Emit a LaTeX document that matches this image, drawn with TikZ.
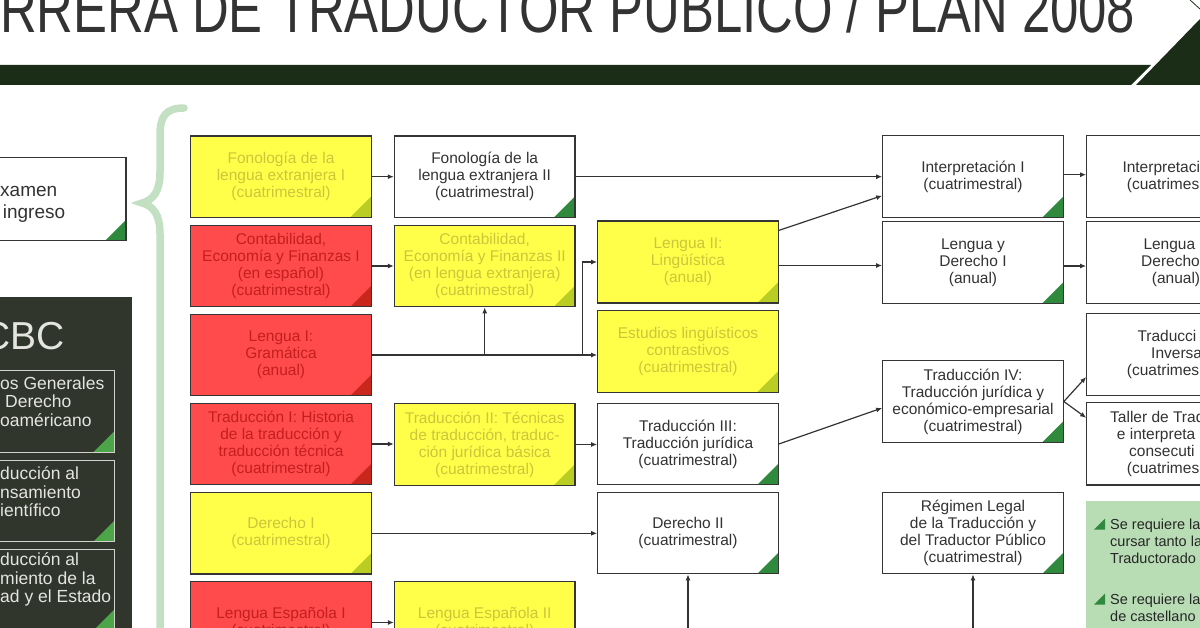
\documentclass[tikz,border=0pt]{standalone}
\usepackage{graphicx}
\usepackage{fontspec}
\setmainfont{Liberation Sans}
\newfontfamily\titlefont{Liberation Sans}
\usetikzlibrary{arrows.meta}

\definecolor{ybg}{HTML}{FFFF4A}
\definecolor{yfg}{HTML}{CBC63A}
\definecolor{ycorner}{HTML}{BACD25}
\definecolor{rbg}{HTML}{FF4B4B}
\definecolor{rfg}{HTML}{C41F1F}
\definecolor{rcorner}{HTML}{C9261E}
\definecolor{gcorner}{HTML}{2F8A3E}
\definecolor{boxline}{HTML}{353535}
\definecolor{txtdark}{HTML}{333333}
\definecolor{panel}{HTML}{30362C}
\definecolor{cbcline}{HTML}{D2D2CC}
\definecolor{cbcgreen}{HTML}{4DA54A}
\definecolor{cbctext}{HTML}{E4E4E0}
\definecolor{bracegreen}{HTML}{C4E0C3}
\definecolor{notegreen}{HTML}{B8DDB4}
\definecolor{bandgreen}{HTML}{1C2D17}

\tikzset{
  cornertri/.style={path picture={\fill[#1] (path picture bounding box.south east)
      -- ([xshift=-21pt]path picture bounding box.south east)
      -- ([yshift=21pt]path picture bounding box.south east) -- cycle;}},
  subject/.style={draw=boxline, line width=1.2pt, minimum width=180.5pt, minimum height=81.5pt,
      inner sep=0pt, align=center, font=\fontsize{15.5}{17}\selectfont},
  wbox/.style={subject, fill=white, text=txtdark, cornertri=gcorner},
  ybox/.style={subject, fill=ybg, text=yfg, cornertri=ycorner},
  rbox/.style={subject, fill=rbg, text=rfg, cornertri=rcorner},
  cbcbox/.style={draw=cbcline, line width=1pt, fill=panel, minimum width=180pt,
      minimum height=81.5pt, cornertri=cbcgreen},
  cuttext/.style={anchor=west, inner sep=0pt, align=left},
  arr/.style={draw=txtdark, line width=1.2pt, -{Latex[length=6pt,width=5pt]}},
}

\begin{document}
\begin{tikzpicture}[x=1pt,y=-1pt]
\useasboundingbox (0,0) rectangle (1200,628);
\clip (0,0) rectangle (1200,628);

% header
\node[anchor=base west, inner sep=0pt, text=txtdark] (title) at (0,33)
  {\resizebox{1135pt}{1.15\height}{\titlefont\fontsize{58}{58}\selectfont RRERA DE TRADUCTOR PUBLICO / PLAN 2008}};
\fill[bandgreen] (0,65) -- (1151,65) -- (1131,85) -- (0,85) -- cycle;
\fill[bandgreen] (1136,85) -- (1200,85) -- (1200,19) -- cycle;
\draw[bandgreen, line width=0.8pt] (1190,0) -- (1200,9);

% left side: ingreso and CBC
\node[wbox, minimum height=83pt] (examen) at (35.7,199.4) {};
\node[cuttext, text=txtdark, font=\fontsize{19}{22}\selectfont] (examenT) at (0,204)
  {xamen\\\hspace{2.7pt}ingreso};

\fill[panel] (-5,296.7) rectangle (131.7,640);
\node[anchor=base east, inner sep=0pt, text=cbctext, font=\fontsize{39}{39}\selectfont] (cbc) at (65,350) {CBC};
\node[cbcbox] (cbcA) at (24.3,411.5) {};
\node[cbcbox] (cbcB) at (24.3,501) {};
\node[cbcbox] (cbcC) at (24.3,589.8) {};
\begin{scope}[every node/.style={cuttext, text=cbctext, font=\fontsize{17.5}{18.5}\selectfont}]
\node (cbcAT) at (0,401.5) {os Generales\\\hspace{5pt}Derecho\\oaméricano};
\node (cbcBT) at (0,491.7) {ducción al\\nsamiento\\ientífico};
\node (cbcCT) at (0,579.5) {ducción al\\miento de la\\ad y el Estado};
\end{scope}

% brace
\draw[bracegreen, line width=7.5pt, line cap=round]
  (184,108) .. controls (166,108) and (160,116) .. (160,135) -- (160,172)
  .. controls (160,192) and (153,200) .. (142,203)
  .. controls (153,206) and (160,214) .. (160,234) -- (160,640);

% first column
\node[ybox] (fonoI) at (281,176.7) {Fonología de la\\lengua extranjera I\\(cuatrimestral)};
\node[rbox] (contaI) at (281,266) {Contabilidad,\\Economía y Finanzas I\\(en español)\\(cuatrimestral)};
\node[rbox] (lenguaI) at (281,355) {Lengua I:\\Gramática\\(anual)};
\node[rbox] (tradI) at (281,444) {Traducción I: Historia\\de la traducción y\\traducción técnica\\(cuatrimestral)};
\node[ybox] (derechoI) at (281,533.3) {Derecho I\\(cuatrimestral)};
\node[rbox] (espI) at (281,622.5) {Lengua Española I\\(cuatrimestral)};

% second column
\node[wbox] (fonoII) at (484.7,176.7) {Fonología de la\\lengua extranjera II\\(cuatrimestral)};
\node[ybox] (contaII) at (484.7,266) {Contabilidad,\\Economía y Finanzas II\\(en lengua extranjera)\\(cuatrimestral)};
\node[ybox] (tradII) at (484.7,444.5) {Traducción II: Técnicas\\de traducción, traduc-\\ción jurídica básica\\(cuatrimestral)};
\node[ybox] (espII) at (484.7,622.5) {Lengua Española II\\(cuatrimestral)};

% third column
\node[ybox, minimum height=82pt] (lenguaII) at (688,262) {Lengua II:\\Lingüística\\(anual)};
\node[ybox] (estudios) at (688,351.4) {Estudios lingüísticos\\contrastivos\\(cuatrimestral)};
\node[wbox] (tradIII) at (688,444) {Traducción III:\\Traducción jurídica\\(cuatrimestral)};
\node[wbox] (derechoII) at (688,533) {Derecho II\\(cuatrimestral)};

% fourth column
\node[wbox, minimum height=82pt] (interpI) at (973,176.7) {Interpretación I\\(cuatrimestral)};
\node[wbox] (lyderI) at (973,262.5) {Lengua y\\Derecho I\\(anual)};
\node[wbox] (tradIV) at (973,401.5) {Traducción IV:\\Traducción jurídica y\\económico-empresarial\\(cuatrimestral)};
\node[wbox] (regimen) at (973,533) {Régimen Legal\\de la Traducción y\\del Traductor Público\\(cuatrimestral)};

% fifth column (cut by the right edge)
\node[wbox, minimum height=82pt] (interpII) at (1177,176.7) {};
\node[wbox] (lyderII) at (1177,262.5) {};
\node[wbox] (inversa) at (1177,354.5) {};
\node[wbox, minimum height=82.3pt] (taller) at (1177,443.8) {};
\begin{scope}[every node/.style={cuttext, text=txtdark, font=\fontsize{15.5}{17}\selectfont}]
\node (interpIIT) at (1122.3,176.7) {Interpretaci\\\hspace{4.4pt}(cuatrimes};
\node (lyderIIT) at (1141,262.5) {\hspace{2.3pt}Lengua\\Derecho\\\hspace{10.7pt}(anual)};
\node (inversaT) at (1126.7,354.5) {\hspace{10.6pt}Traducci\\\hspace{24.3pt}Inversa\\(cuatrimes};
\node (tallerT) at (1110,443.8) {Taller de Tradu\\\hspace{6.7pt}e interpreta\\\hspace{19pt}consecuti\\\hspace{16.7pt}(cuatrimes};
\end{scope}

% notes
\fill[notegreen] (1086,501) rectangle (1205,640);
\fill[gcorner] (1105,529.5) -- (1094,529.5) -- (1105,518.5) -- cycle;
\fill[gcorner] (1105,604.5) -- (1094,604.5) -- (1105,593.5) -- cycle;
\begin{scope}[every node/.style={cuttext, text=black!85, font=\fontsize{14.5}{17}\selectfont}]
\node (noteA) at (1110,541) {Se requiere la\\cursar tanto la\\Traductorado};
\node (noteB) at (1110,608) {Se requiere la\\de castellano};
\end{scope}

% correlatives
\draw[arr] (fonoI) -- (fonoII);
\draw[arr] (fonoII.east) -- (fonoII.east -| interpI.west);
\draw[arr] (contaI) -- (contaII);
\draw[arr] (lenguaI.east) -- (lenguaI.east -| estudios.west);
\draw[arr] (lenguaI.east -| contaII.south) -- (contaII.south);
\coordinate (split) at ([xshift=-15pt]lenguaI.east -| estudios.west);
\draw[arr] (split) |- (lenguaII.west);
\draw[arr] ([yshift=-10pt]lenguaII.north east) -- ([yshift=-19pt]interpI.west);
\draw[arr] ([yshift=-3.5pt]lenguaII.east) -- ([yshift=-3.5pt]lenguaII.east -| lyderI.west);
\draw[arr] (tradI.east) -- (tradI.east -| tradII.west);
\draw[arr] (tradII.east) -- (tradII.east -| tradIII.west);
\draw[arr] (tradIII.east) -- ([yshift=-6.5pt]tradIV.west);
\draw[arr] (derechoI.east) -- (derechoI.east -| derechoII.west);
\coordinate (belowDer) at (688,640);
\coordinate (belowReg) at (973,640);
\draw[arr] (belowDer) -- (derechoII.south);
\draw[arr] (belowReg) -- (regimen.south);
\draw[arr] ([yshift=2pt]interpI.east) -- ([yshift=2pt]interpI.east -| interpII.west);
\draw[arr] ([yshift=-3.5pt]lyderI.east) -- ([yshift=-3.5pt]lyderI.east -| lyderII.west);
\draw[arr] (tradIV.east) -- ([yshift=-22.5pt]inversa.west);
\draw[arr] (tradIV.east) -- ([yshift=26pt]taller.west);
\draw[arr] (espI.east) -- (espI.east -| espII.west);

\end{tikzpicture}
\end{document}
